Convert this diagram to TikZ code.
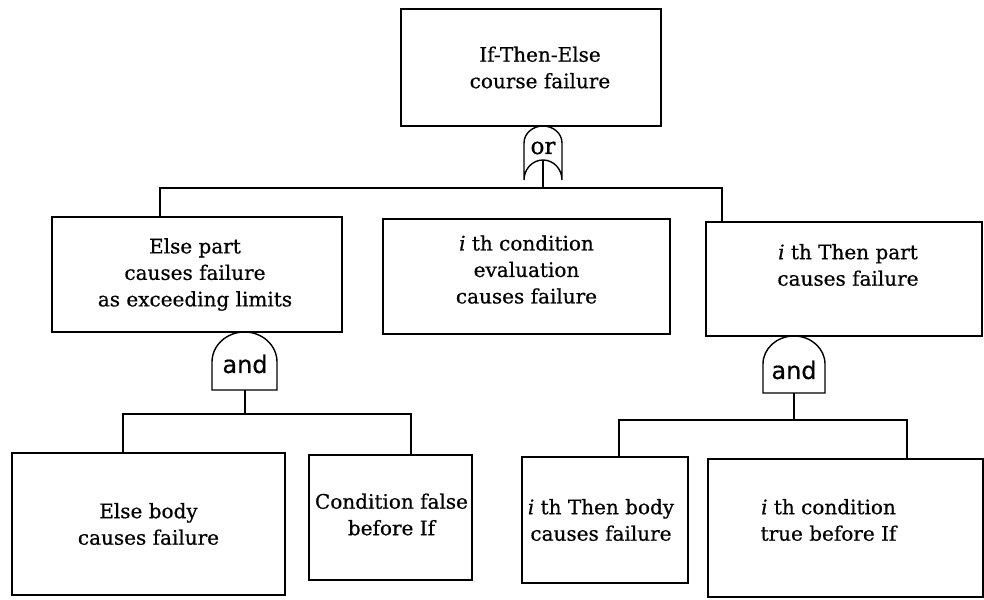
\documentclass[tikz,border=0pt]{standalone}
\usepackage{fontspec}
\setmainfont{DejaVu Serif}[FakeBold=0.6]
\setsansfont{DejaVu Sans}[FakeBold=0.6]
\begin{document}
\begin{tikzpicture}[x=1pt,y=-1pt,line width=1.4pt,
  box/.style={draw,rectangle,inner sep=0pt},
  txt/.style={align=center,inner sep=0pt,font=\fontsize{20}{26.5}\selectfont},
  gatetxt/.style={inner sep=0pt,font=\sffamily\fontsize{24}{26}\selectfont},
  ortxt/.style={inner sep=0pt,font=\fontsize{23}{25}\selectfont}]
\useasboundingbox (0,0) rectangle (984,599);

% events
\node[box,minimum width=260pt,minimum height=117pt,
  label={[txt,xshift=9pt]center:If-Then-Else\\course failure}] (top) at (531,67.5) {};
\node[box,minimum width=290pt,minimum height=115pt,
  label={[txt,xshift=-2pt]center:Else part\\causes failure\\as exceeding limits}] (bL) at (197,274.5) {};
\node[box,minimum width=287pt,minimum height=115pt,
  label={[txt,yshift=7pt]center:\textit{i} th condition\\evaluation\\causes failure}] (bM) at (526.5,276.5) {};
\node[box,minimum width=276pt,minimum height=114pt,
  label={[txt,xshift=4pt,yshift=14pt]center:\textit{i} th Then part\\causes failure}] (bR) at (844,279) {};
\node[box,minimum width=273pt,minimum height=142pt,
  label={[txt]center:Else body\\causes failure}] (c1) at (148.5,524) {};
\node[box,minimum width=163pt,minimum height=125pt,
  label={[txt,xshift=1pt,yshift=3pt]center:Condition false\\before If}] (c2) at (390.5,517.5) {};
\node[box,minimum width=166pt,minimum height=126pt,
  label={[txt,xshift=-4pt]center:\textit{i} th Then body\\causes failure}] (c3) at (605,520) {};
\node[box,minimum width=275pt,minimum height=138pt,
  label={[txt,xshift=-17pt,yshift=8pt]center:\textit{i} th condition\\true before If}] (c4) at (845.5,528) {};

% or gate
\node[ortxt] (orG) at (543,148) {or};
\draw ([shift={(-19,32)}]orG.center) -- ++(0,-37)
  arc[start angle=180,end angle=0,x radius=19pt,y radius=17pt] -- ++(0,37)
  arc[start angle=0,end angle=180,x radius=19pt,y radius=20pt];

% and gates
\node[gatetxt] (andL) at (245,364) {and};
\draw ([shift={(-33,26)}]andL.center) -- ++(0,-28)
  arc[start angle=180,end angle=0,x radius=32.5pt,y radius=30pt] -- ++(0,28) -- cycle;
\node[gatetxt] (andR) at (794,370) {and};
\draw ([shift={(-31,23)}]andR.center) -- ++(0,-29)
  arc[start angle=180,end angle=0,x radius=31pt,y radius=28pt] -- ++(0,29) -- cycle;

% connectors under the or gate
\coordinate (bar1) at (543,188);
\coordinate (bLin) at ([xshift=-37pt]bL.north);
\coordinate (bRin) at ([xshift=-122pt]bR.north);
\draw ([shift={(0,12)}]orG.center) -- (bar1);
\draw (bLin) -- (bLin |- bar1) -- (bRin |- bar1) -- (bRin);

% connectors under the left and gate
\coordinate (bar2) at (245,414);
\coordinate (c1in) at ([xshift=-25.5pt]c1.north);
\coordinate (c2in) at ([xshift=20.5pt]c2.north);
\draw ([shift={(0,26)}]andL.center) -- (bar2);
\draw (c1in) -- (c1in |- bar2) -- (c2in |- bar2) -- (c2in);

% connectors under the right and gate
\coordinate (bar3) at (794,420);
\coordinate (c3in) at ([xshift=14pt]c3.north);
\coordinate (c4in) at ([xshift=61.5pt]c4.north);
\draw ([shift={(0,23)}]andR.center) -- (bar3);
\draw (c3in) -- (c3in |- bar3) -- (c4in |- bar3) -- (c4in);
\end{tikzpicture}
\end{document}
